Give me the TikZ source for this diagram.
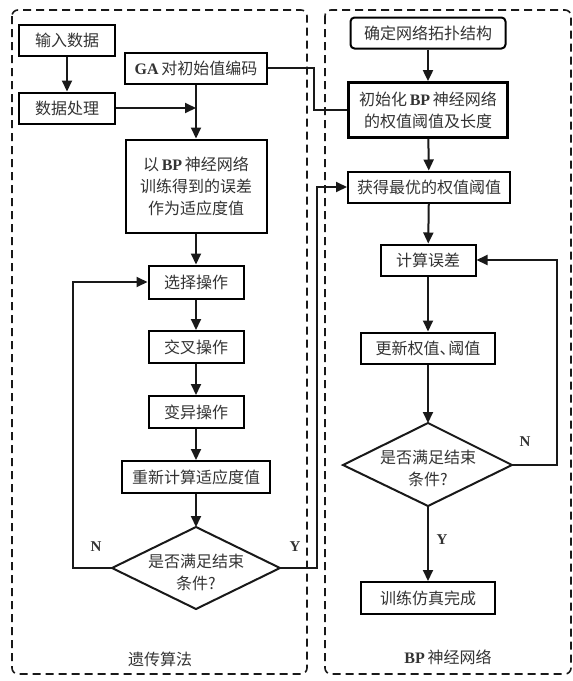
\documentclass[tikz,border=0pt]{standalone}
\usepackage{fontspec}
\setmainfont{Liberation Serif}
\newfontfamily\cjk{Noto Sans CJK SC}
\newfontfamily\lf{Liberation Serif}
\usetikzlibrary{arrows.meta}
\definecolor{txtc}{HTML}{333333}
\newcommand\lt[1]{{\lf\bfseries #1}}
\tikzset{
  x=1pt, y=-1pt,
  txt/.style={font=\cjk\fontsize{16}{22}\selectfont, text=txtc, align=center, inner sep=0pt},
  box/.style={txt, draw=black, line width=2pt, minimum width=#1},
  box/.default=95pt,
  frame/.style={draw=black!90, line width=1.6pt, dash pattern=on 8pt off 5pt, rounded corners=6pt},
  arr/.style={draw=black!90, line width=2pt, -{Triangle[length=11pt,width=10pt]}},
  ln/.style={draw=black!90, line width=2pt},
  lab/.style={font=\lf\bfseries\fontsize{15}{17}\selectfont, text=txtc},
}
\begin{document}
\begin{tikzpicture}
\useasboundingbox (0,0) rectangle (573,681);
% frames
\draw[frame] (12,10) rectangle (307,674);
\draw[frame] (325,10) rectangle (571,674);
% left column
\node[box=96pt, minimum height=31pt] (in) at (67,40) {输入数据};
\node[box=96pt, minimum height=31pt] (proc) at (67,108) {数据处理};
\node[box=142pt, minimum height=31pt] (ga) at (196,68) {\lt{GA}\,对初始值编码};
\node[box=141pt, minimum height=93pt] (fit) at (196,186) {以\,\lt{BP}\,神经网络\\训练得到的误差\\作为适应度值};
\node[box=95pt, minimum height=33pt] (sel) at (196,282) {选择操作};
\node[box=95pt, minimum height=32pt] (cro) at (196,347) {交叉操作};
\node[box=95pt, minimum height=32pt] (mut) at (196,412) {变异操作};
\node[box=148pt, minimum height=32pt] (re) at (196,477) {重新计算适应度值};
\draw[ln] (196,527) coordinate (d1t) -- (280,568) coordinate (d1r) -- (196,609) coordinate (d1b) -- (112,568) coordinate (d1l) -- cycle;
\node[txt] (d1) at (196,572) {是否满足结束\\条件?};
% right column
\node[box=155pt, minimum height=31pt, rounded corners=4pt] (top) at (428,33) {确定网络拓扑结构};
\node[box=159pt, minimum height=55pt, line width=2.8pt] (init) at (428,110) {初始化\,\lt{BP}\,神经网络\\的权值阈值及长度};
\node[box=162pt, minimum height=31pt] (best) at (429,187) {获得最优的权值阈值};
\node[box=95pt, minimum height=31pt] (err) at (428,260) {计算误差};
\node[box=134pt, minimum height=31pt] (upd) at (428,348) {更新权值、\hspace{-0.45em}阈值};
\draw[ln] (428,423) coordinate (d2t) -- (512,465) coordinate (d2r) -- (428,506) coordinate (d2b) -- (343,465) coordinate (d2l) -- cycle;
\node[txt] (d2) at (428,468) {是否满足结束\\条件?};
\node[box=134pt, minimum height=32pt] (done) at (428,598) {训练仿真完成};
% coordinates for bends
\coordinate (gx) at (314,90);
\coordinate (nx) at (73,568);
\coordinate (yx) at (317,568);
\coordinate (n2x) at (557,465);
% connectors left
\draw[arr] (in) -- (proc);
\draw[arr] (ga) -- (fit);
\draw[arr] (proc.east) -- (proc.east -| ga);
\draw[arr] (fit) -- (sel);
\draw[arr] (sel) -- (cro);
\draw[arr] (cro) -- (mut);
\draw[arr] (mut) -- (re);
\draw[arr] (re) -- (d1t);
\draw[arr] (d1l) -- (nx) |- (sel.west);
\draw[arr] (d1r) -- (yx) |- (best.west);
\draw[ln] (ga.east) -| (gx) |- (init.west);
% connectors right
\draw[arr] (top) -- (init);
\draw[arr] (init) -- (best);
\draw[arr] (best) -- (err);
\draw[arr] (err) -- (upd);
\draw[arr] (upd) -- (d2t);
\draw[arr] (d2b) -- (done);
\draw[arr] (d2r) -- (n2x) |- (err.east);
% labels
\node[lab] at (96,547) {N};
\node[lab] at (295,547) {Y};
\node[lab] at (525,442) {N};
\node[lab] at (442,540) {Y};
\node[txt] at (160,659) {遗传算法};
\node[txt] at (448,657) {\lt{BP}\,神经网络};
\end{tikzpicture}
\end{document}
